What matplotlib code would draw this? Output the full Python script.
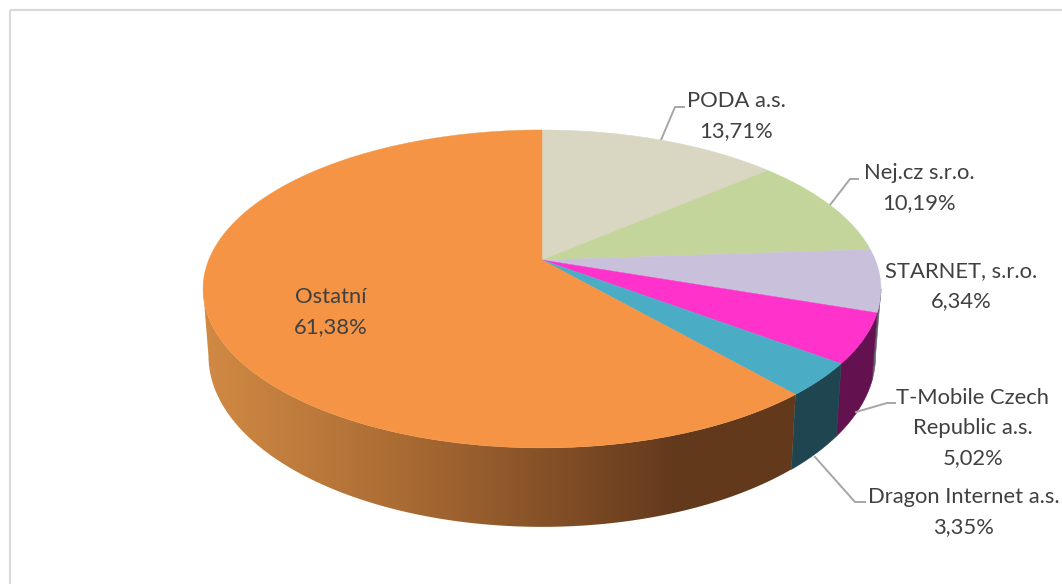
"""
3D style pie of provider shares, drawn in pixel coordinates with a perspective rim.
"""
import numpy as np
import matplotlib
matplotlib.use('Agg')
import matplotlib.pyplot as plt
from matplotlib.colors import LinearSegmentedColormap
from matplotlib.patches import Polygon, Rectangle

plt.rcParams['font.family'] = ['Lato', 'DejaVu Sans']

# ── data ───────────────────────────────────────────────────────────────────────
providers = ['PODA a.s.', 'Nej.cz s.r.o.', 'STARNET, s.r.o.',
             'T-Mobile Czech\nRepublic a.s.', 'Dragon Internet a.s.', 'Ostatní']
shares = [13.71, 10.19, 6.34, 5.02, 3.35, 61.38]
share_labels = ['13,71%', '10,19%', '6,34%', '5,02%', '3,35%', '61,38%']

# ── style / layout ─────────────────────────────────────────────────────────────
TOP_COLORS = ['#D9D6C2', '#C3D59A', '#C9C0DB', '#FF33CC', '#4BACC6', '#F49444']
WALL_COLORS = ['#6B6A60', '#60694C', '#64606E', '#641150', '#1F4650', None]
TEXT_COLOR = '#404040'
LINE_COLOR = '#A6A6A6'
FONT_SIZE = 15.8

CX, CY = 542, 260          # apex of the slices
RX, RY = 333.3, 153.7      # projected radii
K = 0.182                  # perspective strength
DEPTH = 64.6
WALL_SHRINK = 0.984

# label centre (x, y of first line) and leader polyline
LABEL_POS = [(736, 101), (919, 173), (961, 271), (973, 398), (964, 497), (331, 297)]
LEADERS = [
    [(661, 140), (675, 107), (684, 107)],
    [(830, 205), (850, 179), (858, 179)],
    None,
    [(856, 412), (887, 403), (895, 403)],
    [(815, 457), (855, 502), (865, 502)],
    None,
]


def rim(angle):
    """Top rim point for clockwise angle from 12 o'clock, in radians."""
    u, v = np.sin(angle), np.cos(angle)
    w = 1 + K * v
    return CX + RX * u / w, CY - RY * v / w


def lower_rim(angle):
    x, y = rim(angle)
    w = 1 + K * np.cos(angle)
    return CX + (x - CX) * WALL_SHRINK, y + DEPTH / w


def wall_poly(a0, a1):
    t = np.linspace(a0, a1, 120)
    xt, yt = rim(t)
    xb, yb = lower_rim(t)
    return np.column_stack([np.r_[xt, xb[::-1]], np.r_[yt, yb[::-1]]])


fig = plt.figure(figsize=(10.62, 5.84), dpi=100)
ax = fig.add_axes([0, 0, 1, 1])
ax.set_xlim(0, 1062)
ax.set_ylim(584, 0)
ax.axis('off')

# chart frame, runs off the right and bottom of the crop
ax.add_patch(Rectangle((10, 10), 1200, 700, fc='none', ec='#D9D9D9', lw=1.5))

edges = np.cumsum([0] + shares) / sum(shares) * 2 * np.pi
vis_start = np.arccos(-K)
vis_end = 2 * np.pi - vis_start

# side walls
wall_cmap = LinearSegmentedColormap.from_list('wall', [
    (0.0, '#D18A44'), (0.33, '#AB6C34'), (0.55, '#8A5429'), (0.80, '#63391C'), (1.0, '#63391C')])
for i in range(len(shares)):
    a0, a1 = max(edges[i], vis_start), min(edges[i + 1], vis_end)
    if a1 <= a0:
        continue
    pts = wall_poly(a0, a1)
    if WALL_COLORS[i] is not None:
        ax.add_patch(Polygon(pts, closed=True, fc=WALL_COLORS[i], ec=WALL_COLORS[i], lw=0.4))
    else:
        grad = np.linspace(0, 1, 256).reshape(1, -1)
        im = ax.imshow(grad, cmap=wall_cmap, aspect='auto', zorder=2,
                       extent=(pts[:, 0].min(), 795, pts[:, 1].max(), pts[:, 1].min()))
        clip = Polygon(pts, closed=True, transform=ax.transData)
        im.set_clip_path(clip)
ax.set_xlim(0, 1062)
ax.set_ylim(584, 0)

# top face
for i in range(len(shares)):
    t = np.linspace(edges[i], edges[i + 1], 200)
    xs, ys = rim(t)
    pts = np.column_stack([np.r_[CX, xs], np.r_[CY, ys]])
    ax.add_patch(Polygon(pts, closed=True, fc=TOP_COLORS[i], ec=TOP_COLORS[i], lw=0.3, zorder=3))

# leaders and labels
for i, (name, pct) in enumerate(zip(providers, share_labels)):
    if LEADERS[i] is not None:
        lx, ly = zip(*LEADERS[i])
        ax.plot(lx, ly, color=LINE_COLOR, lw=1.4, zorder=1, solid_joinstyle='miter')
    x, y = LABEL_POS[i]
    for j, line in enumerate((name + '\n' + pct).split('\n')):
        ax.text(x, y + j * 30, line, ha='center', va='center', color=TEXT_COLOR,
                fontsize=FONT_SIZE, zorder=5)

fig.savefig('out.png', dpi=100)
